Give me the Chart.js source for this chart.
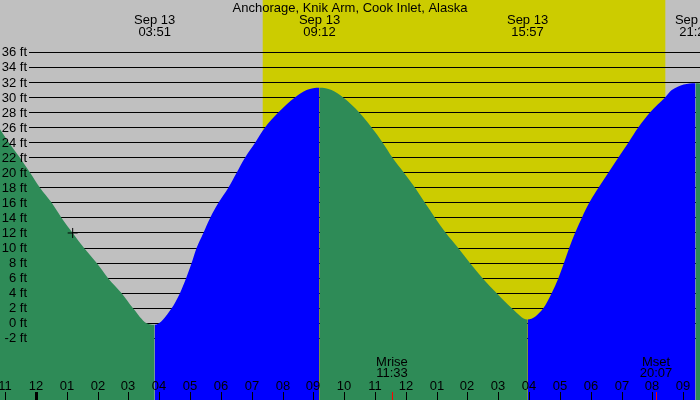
<!DOCTYPE html>
<html>
<head>
<meta charset="utf-8">
<title>Anchorage tides</title>
<script src="https://cdn.jsdelivr.net/npm/chart.js@4/dist/chart.umd.min.js"></script>
<style>
  html, body { margin: 0; padding: 0; background: #fff; }
  #wrap { width: 700px; height: 400px; }
</style>
</head>
<body>
<div id="wrap"><canvas id="tideChart" width="700" height="400"></canvas></div>
<script>
// hours after midnight Sep 13 and water height in feet
const tideHours = [-1.17, -0.88, -0.52, -0.19, 0.13, 0.51, 0.83, 1.19, 1.56, 1.97, 2.34, 2.78, 3.15, 3.59, 3.85,
  4.40, 4.67, 4.87, 5.05, 5.21, 5.43, 5.65, 5.92, 6.24, 6.51, 6.78, 7.11, 7.43, 7.86, 8.40, 8.78, 9.20,
  9.59, 9.97, 10.49, 10.89, 11.25, 11.57, 11.94, 12.30, 12.62, 12.95, 13.30, 13.70, 14.08, 14.49, 14.95, 15.44, 15.95,
  16.46, 16.73, 16.95, 17.13, 17.30, 17.49, 17.71, 17.95, 18.25, 18.57, 18.89, 19.22, 19.54, 19.92, 20.41, 20.63, 21.40, 21.60];
const tideFeet = [25.8, 24, 22, 20, 18, 16, 14, 12, 10, 8, 6, 4, 2, 0, -0.2,
  2, 4, 6, 8, 10, 12, 14, 16, 18, 20, 22, 24, 26, 28, 30, 31.0, 31.3,
  31.0, 30, 28, 26, 24, 22, 20, 18, 16, 14, 12, 10, 8, 6, 4, 2, 0.5,
  2, 4, 6, 8, 10, 12, 14, 16, 18, 20, 22, 24, 26, 28, 30, 31.0, 31.9, 31.85];

// high / low water
const extremeHours = [3.85, 9.2, 15.95, 21.4];
const extremeDates = ['Sep 13', 'Sep 13', 'Sep 13', 'Sep 13'];
const extremeTimes = ['03:51', '09:12', '15:57', '21:24'];

// current time marker
const nowHour = 1.19;
const nowFeet = 12;

// sun and moon
const sunHours = [7.356, 20.42];
const moonHours = [11.55, 20.117];
const moonNames = ['Mrise', 'Mset'];
const moonTimes = ['11:33', '20:07'];

// axes
const feetTicks = [-2, 0, 2, 4, 6, 8, 10, 12, 14, 16, 18, 20, 22, 24, 26, 28, 30, 32, 34, 36];
const firstHour = -1;
const hourLabels = ['11', '12', '01', '02', '03', '04', '05', '06', '07', '08', '09', '10',
  '11', '12', '01', '02', '03', '04', '05', '06', '07', '08', '09'];

const title = 'Anchorage, Knik Arm, Cook Inlet, Alaska';

const GREEN = '#2e8b57';
const BLUE = '#0000ff';
const NIGHT = '#c0c0c0';
const DAY = '#cccc00';
const FONT = '13px "Liberation Sans", Arial, sans-serif';

const decor = {
  id: 'decor',
  beforeDraw(chart) {
    const { ctx, chartArea: a, scales: { x, y } } = chart;
    ctx.save();
    ctx.fillStyle = NIGHT;
    ctx.fillRect(a.left, a.top, a.width, a.height);
    const sr = x.getPixelForValue(sunHours[0]);
    const ss = x.getPixelForValue(sunHours[1]);
    ctx.fillStyle = DAY;
    ctx.fillRect(sr, a.top, ss - sr, a.height);
    ctx.fillStyle = '#000';
    feetTicks.forEach(v => {
      const py = Math.floor(y.getPixelForValue(v));
      ctx.fillRect(29, py, a.right - 29, 1);
    });
    ctx.restore();
  },
  afterDatasetsDraw(chart) {
    const { ctx, chartArea: a, scales: { x, y } } = chart;
    ctx.save();
    ctx.font = FONT;
    ctx.fillStyle = '#000';

    // feet labels
    ctx.textAlign = 'right';
    ctx.textBaseline = 'middle';
    feetTicks.forEach(v => {
      ctx.fillText(v + ' ft', 27, y.getPixelForValue(v) + 0.5);
    });

    ctx.textAlign = 'center';
    ctx.textBaseline = 'alphabetic';
    ctx.fillText(title, 350, 12);

    extremeHours.forEach((h, i) => {
      const px = x.getPixelForValue(h);
      ctx.fillText(extremeDates[i], px, 24);
      ctx.fillText(extremeTimes[i], px, 36);
    });

    moonHours.forEach((h, i) => {
      const px = x.getPixelForValue(h);
      ctx.fillText(moonNames[i], px, 366);
      ctx.fillText(moonTimes[i], px, 377);
    });

    // hour ticks
    hourLabels.forEach((lab, i) => {
      const h = firstHour + i;
      const px = Math.round(x.getPixelForValue(h));
      ctx.fillText(lab, px, 390);
      const w = (h % 24 === 0) ? 3 : 1;
      ctx.fillRect(px - Math.floor(w / 2), 392, w, a.bottom - 392);
    });
    ctx.fillStyle = '#ff0000';
    moonHours.forEach(h => {
      const px = Math.round(x.getPixelForValue(h));
      ctx.fillRect(px, 392, 1, a.bottom - 392);
    });
    ctx.restore();
  }
};

const ctx = document.getElementById('tideChart').getContext('2d');
new Chart(ctx, {
  type: 'line',
  data: {
    datasets: [{
      data: tideHours.map((h, i) => ({ x: h, y: tideFeet[i] })),
      order: 2,
      fill: 'start',
      backgroundColor: GREEN,
      borderColor: 'transparent',
      borderWidth: 0,
      pointRadius: 0,
      cubicInterpolationMode: 'monotone',
      segment: {
        backgroundColor: c => c.p1.parsed.y < c.p0.parsed.y ? GREEN : BLUE
      }
    }, {
      data: [{ x: nowHour, y: nowFeet }],
      order: 1,
      showLine: false,
      pointStyle: 'cross',
      pointRadius: 5,
      pointBorderColor: '#000',
      pointBorderWidth: 1,
      fill: false
    }]
  },
  options: {
    responsive: false,
    animation: false,
    devicePixelRatio: 1,
    layout: { padding: 0, autoPadding: false },
    plugins: { legend: { display: false }, tooltip: { enabled: false } },
    scales: {
      x: { type: 'linear', min: -1.168, max: 21.545, display: false },
      y: { type: 'linear', min: -10.19, max: 42.95, display: false }
    }
  },
  plugins: [decor]
});
</script>
</body>
</html>
